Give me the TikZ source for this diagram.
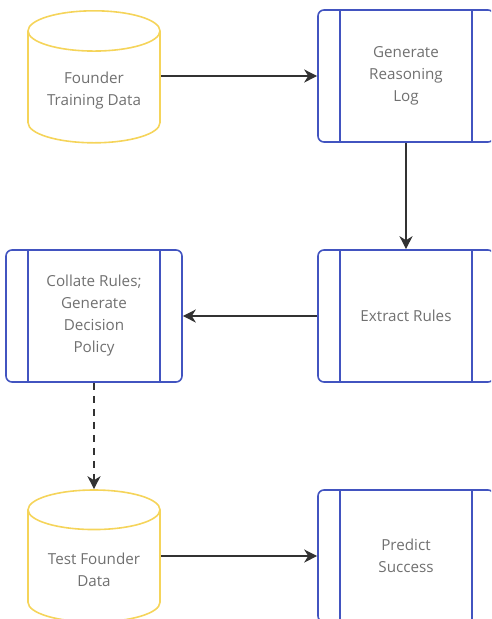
\documentclass[tikz,border=0pt]{standalone}
\usepackage{fontspec}
\setmainfont{Open Sans}
\usepackage{tikz}
\usetikzlibrary{shapes.geometric,arrows.meta,positioning}
\definecolor{dbyellow}{RGB}{245,212,90}
\definecolor{procblue}{RGB}{66,84,192}
\definecolor{textgrey}{RGB}{112,112,112}
\definecolor{linkgrey}{RGB}{50,50,50}
\tikzset{store/.style={cylinder, shape border rotate=90, aspect=0.4, draw=dbyellow, line width=1.6pt,
        minimum width=132pt, minimum height=132pt, align=center, text=textgrey, font=\fontsize{15.2}{22}\selectfont},
  proc/.style={rectangle, rounded corners=6pt, draw=procblue, line width=1.6pt, minimum width=176pt,
        minimum height=132pt, align=center, text=textgrey, font=\fontsize{15.2}{22}\selectfont,
        path picture={\draw[procblue, line width=1.6pt]
          ([xshift=22pt]path picture bounding box.north west) -- ([xshift=22pt]path picture bounding box.south west)
          ([xshift=-22pt]path picture bounding box.north east) -- ([xshift=-22pt]path picture bounding box.south east);}},
  link/.style={draw=linkgrey, line width=1.4pt, -{Stealth[length=13pt,width=13pt,inset=4pt]}}}
\begin{document}
\begin{tikzpicture}[x=1pt, y=1pt, node distance=106.4pt and 134.4pt]
\useasboundingbox (0,0) rectangle (491,-619);
\clip (0,0) rectangle (491,-619);
\node [store, anchor=north] (train) at (94,-10) {Founder\\Training Data};
\node [proc] (reason) at (406,-76) {Generate\\Reasoning\\Log};
\node [proc, below=of reason] (extract) {Extract Rules};
\node [proc, left=of extract] (collate) {Collate Rules;\\Generate\\Decision\\Policy};
\node [store, below=of collate] (test) {Test Founder\\Data};
\node [proc, below=of extract] (predict) {Predict\\Success};

\draw [link] (reason.west -| train.east) -- (reason.west);
\draw [link] (reason) -- (extract);
\draw [link] (extract) -- (collate);
\draw [link, dashed, dash pattern=on 7pt off 6pt] (collate) -- (test);
\draw [link] (predict.west -| test.east) -- (predict.west);
\end{tikzpicture}
\end{document}
